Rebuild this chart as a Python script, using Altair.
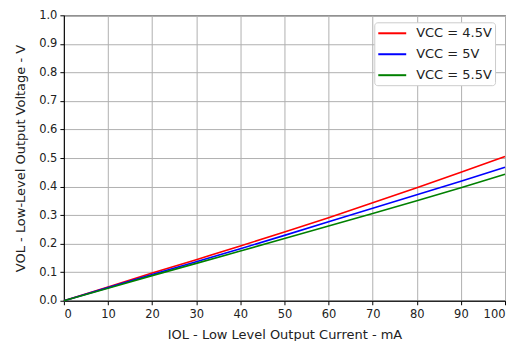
import altair as alt
import pandas as pd

iol = [0, 10, 20, 30, 40, 50, 60, 70, 80, 90, 100]
vol_45 = [0, 0.048, 0.097, 0.144, 0.192, 0.241, 0.291, 0.343, 0.396, 0.450, 0.505]
vol_50 = [0, 0.046, 0.092, 0.137, 0.182, 0.229, 0.277, 0.324, 0.371, 0.419, 0.468]
vol_55 = [0, 0.044, 0.088, 0.131, 0.174, 0.218, 0.262, 0.306, 0.350, 0.396, 0.443]
series = ["VCC = 4.5V", "VCC = 5V", "VCC = 5.5V"]
colors = ["#ff0000", "#0000ff", "#008000"]

rows = []
for name, vals in zip(series, [vol_45, vol_50, vol_55]):
    for x, y in zip(iol, vals):
        rows.append({"IOL": x, "VOL": y, "series": name})
df = pd.DataFrame(rows)

font = "DejaVu Sans"

chart = alt.Chart(df).mark_line(strokeWidth=1.6).encode(
    x=alt.X("IOL:Q", scale=alt.Scale(domain=[0, 100], nice=False),
            axis=alt.Axis(title="IOL - Low Level Output Current - mA",
                          values=list(range(0, 101, 10)), format="d",
                          titlePadding=8, labelPadding=4)),
    y=alt.Y("VOL:Q", scale=alt.Scale(domain=[0, 1.0], nice=False),
            axis=alt.Axis(title="VOL - Low-Level Output Voltage - V",
                          values=[i / 10 for i in range(11)], format=".1f",
                          titlePadding=11, labelPadding=3)),
    color=alt.Color("series:N", scale=alt.Scale(domain=series, range=colors),
                    legend=alt.Legend(title=None, orient="none", legendX=311, legendY=7,
                                      symbolType="M-2,0H2", symbolSize=196,
                                      symbolOffset=7,
                                      symbolStrokeWidth=2, labelFontSize=13,
                                      labelFont=font, labelColor="#222",
                                      fillColor="white", strokeColor="#cccccc",
                                      cornerRadius=3, padding=3, rowPadding=6,
                                      labelOffset=16)),
).properties(
    width=442, height=286,
    autosize=alt.AutoSizeParams(type="none"),
    padding={"left": 56, "top": 7, "right": 8, "bottom": 40},
).configure_view(
    stroke="black", strokeWidth=1
).configure_axis(
    grid=True, gridColor="#b0b0b0", gridWidth=1,
    domainColor="black", tickColor="black", tickSize=4,
    labelFont=font, labelFontSize=11.5, labelColor="#222",
    titleFont=font, titleFontSize=13, titleFontWeight="normal", titleColor="#222",
)

chart.save("out.html", embed_options={"renderer": "svg", "actions": False})
